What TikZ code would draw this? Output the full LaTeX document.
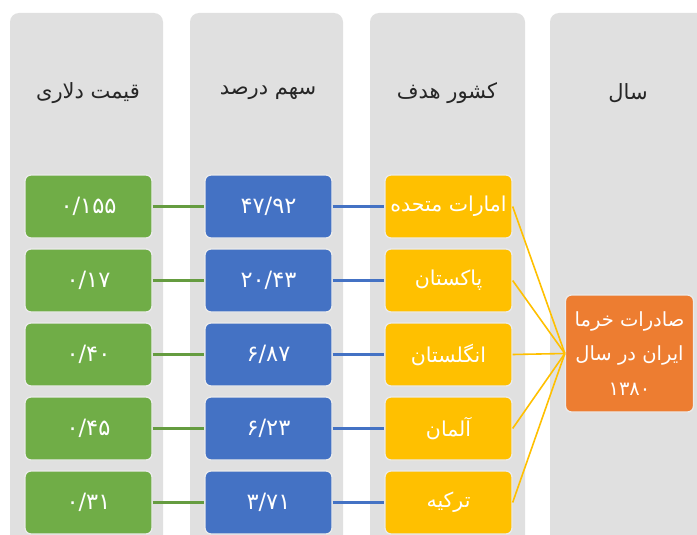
\documentclass[tikz,border=0pt]{standalone}
\usepackage{fontspec}
\newfontfamily\arabicfont[Script=Arabic]{DejaVu Sans}
\TeXXeTstate=1
\definecolor{colgray}{HTML}{E0E0E0}
\definecolor{cgreen}{HTML}{70AD47}
\definecolor{cblue}{HTML}{4472C4}
\definecolor{cgold}{HTML}{FFC000}
\definecolor{corange}{HTML}{ED7D31}
\definecolor{ctext}{HTML}{262626}
\tikzset{
  column/.style={fill=colgray, rounded corners=9pt},
  header/.style={font=\arabicfont\fontsize{21}{24}\selectfont, text=ctext},
  boxbase/.style={rounded corners=6pt, draw=white!92!black, line width=1.3pt,
    minimum width=127pt, minimum height=63pt, inner sep=0pt, text=white,
    font=\arabicfont\fontsize{20.5}{24}\selectfont},
  numtext/.style={font=\arabicfont\fontsize{22.5}{24}\selectfont},
  gbox/.style={boxbase, numtext, fill=cgreen},
  bbox/.style={boxbase, numtext, fill=cblue},
  ybox/.style={boxbase, fill=cgold},
  obox/.style={boxbase, fill=corange, minimum width=128pt, minimum height=117pt,
    align=center, font=\arabicfont\fontsize{19.5}{34.5}\selectfont},
  gline/.style={cgreen!90!black, line width=2.3pt},
  bline/.style={cblue, line width=2.3pt},
  yline/.style={cgold, line width=1.6pt},
}
\begin{document}
\begin{tikzpicture}[x=1pt,y=-1pt]
\useasboundingbox (0,0) rectangle (697,535);
\fill[white] (0,0) rectangle (697,535);
\begin{scope}
\clip (0,0) rectangle (697,535);
\fill[column] (10,13) rectangle (163,570);
\fill[column] (190,13) rectangle (343,570);
\fill[column] (370,13) rectangle (525,570);
\fill[column] (550,13) rectangle (720,570);
\end{scope}

\node[header] (h1) at (88,93) {\beginR قیمت دلاری\endR};
\node[header] (h2) at (268,93) {\beginR سهم درصد\endR};
\node[header] (h3) at (447,93) {\beginR کشور هدف\endR};
\node[header] (h4) at (628,93) {\beginR سال\endR};

\node[gbox] (g1) at (88.5,206.5) {۰/۱۵۵};
\node[gbox] (g2) at (88.5,280.5) {۰/۱۷};
\node[gbox] (g3) at (88.5,354.5) {۰/۴۰};
\node[gbox] (g4) at (88.5,428.5) {۰/۴۵};
\node[gbox] (g5) at (88.5,502.5) {۰/۳۱};

\node[bbox] (b1) at (268.5,206.5) {۴۷/۹۲};
\node[bbox] (b2) at (268.5,280.5) {۲۰/۴۳};
\node[bbox] (b3) at (268.5,354.5) {۶/۸۷};
\node[bbox] (b4) at (268.5,428.5) {۶/۲۳};
\node[bbox] (b5) at (268.5,502.5) {۳/۷۱};

\node[ybox] (y1) at (448.5,206.5) {\beginR امارات متحده\endR};
\node[ybox] (y2) at (448.5,280.5) {\beginR پاکستان\endR};
\node[ybox] (y3) at (448.5,354.5) {\beginR انگلستان\endR};
\node[ybox] (y4) at (448.5,428.5) {\beginR آلمان\endR};
\node[ybox] (y5) at (448.5,502.5) {\beginR ترکیه\endR};

\node[obox] (o) at (629.5,353.5) {\beginR صادرات خرما\endR\\\beginR ایران در سال\endR\\۱۳۸۰};

\foreach \i in {1,...,5}{
  \draw[gline] (g\i.east) -- (b\i.west);
  \draw[bline] (b\i.east) -- (y\i.west);
  \draw[yline] (y\i.east) -- (o.west);
}
\end{tikzpicture}
\end{document}
